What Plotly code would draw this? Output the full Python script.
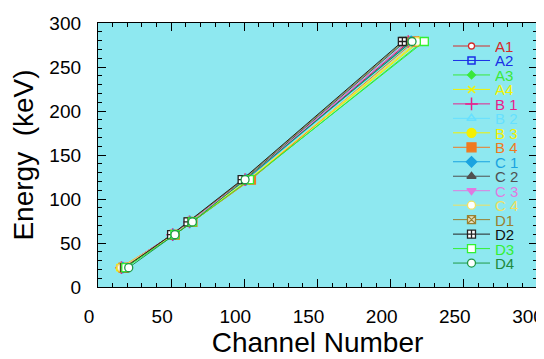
import plotly.graph_objects as go

# ---------------- data ----------------
energy_kev = [22, 59.5, 74, 122, 279]

series_names = ["A1", "A2", "A3", "A4", "B 1", "B 2", "B 3", "B 4",
                "C 1", "C 2", "C 3", "C 4", "D1", "D2", "D3", "D4"]

ch_A1 = [17, 51.5, 63, 101, 213]
ch_A2 = [17, 51.5, 63, 101, 214]
ch_A3 = [16, 52.5, 64.5, 104, 222]
ch_A4 = [15, 52, 64, 103, 220]
ch_B1 = [16, 51, 62.5, 100.5, 212]
ch_B2 = [17, 51.5, 63, 101.5, 215]
ch_B3 = [15.5, 52, 64, 103, 219]
ch_B4 = [17.5, 52.5, 64.5, 104.5, 216]
ch_C1 = [17, 51.5, 63, 101.5, 214]
ch_C2 = [16.5, 51, 62, 100, 210]
ch_C3 = [16, 51, 62.5, 100.5, 212]
ch_C4 = [16, 52, 63.5, 102.5, 218]
ch_D1 = [18, 50.5, 62, 99, 209]
ch_D2 = [18.5, 50.3, 61.5, 98.5, 208]
ch_D3 = [19, 52.5, 64.5, 103.5, 223]
ch_D4 = [21, 52.6, 64.5, 100.5, 214.6]

channels = [ch_A1, ch_A2, ch_A3, ch_A4, ch_B1, ch_B2, ch_B3, ch_B4,
            ch_C1, ch_C2, ch_C3, ch_C4, ch_D1, ch_D2, ch_D3, ch_D4]

x_ticks = [0, 50, 100, 150, 200, 250, 300]
y_ticks = [0, 50, 100, 150, 200, 250, 300]

# ---------------- styles ----------------
line_colors = ["#d42a2a", "#1a2ee6", "#3ae83a", "#f2f200", "#e8208c", "#66e0ff",
               "#f5f000", "#f07a20", "#1aa3e0", "#505050", "#e07ae0", "#f0e060",
               "#9a8030", "#222222", "#33f033", "#1f9a45"]
text_colors = ["#d42a2a", "#1a2ee6", "#3ae83a", "#f2f200", "#e8208c", "#66e0ff",
               "#f5f000", "#f07a20", "#1aa3e0", "#505050", "#e07ae0", "#f0e060",
               "#9a8030", "#111111", "#33f033", "#1f8a3d"]
symbols = ["circle", "square-open", "diamond", "x-thin-open", "cross-thin-open",
           "triangle-up-open", "circle", "square", "diamond", "triangle-up",
           "triangle-down", "circle", "square-x", "square-cross", "square", "circle"]
fills = ["white", None, None, None, None, None, None, None, None, None,
         None, "white", "#e8e0c0", "white", "white", "white"]
msizes = [6, 7, 6, 7, 9, 8, 9, 9, 8, 8, 8, 8, 8, 8, 8, 8]

FONT = "Liberation Sans, Arial, sans-serif"

fig = go.Figure()

for i, name in enumerate(series_names):
    c = line_colors[i]
    fill = fills[i] if fills[i] else c
    marker = dict(symbol=symbols[i], size=msizes[i], color=fill,
                  line=dict(color=c, width=1.3))
    if symbols[i].endswith("-open"):
        marker = dict(symbol=symbols[i], size=msizes[i], color=c,
                      line=dict(color=c, width=1.5))
    fig.add_trace(go.Scatter(x=channels[i], y=energy_kev, mode="lines+markers",
                             name=name, line=dict(color=c, width=1),
                             marker=marker, showlegend=False, cliponaxis=False))

# ---------------- custom legend (pixel-based overlay axes) ----------------
plot_w, plot_h = 439, 264
leg_x0, leg_x1 = 355, 392
leg_y0, leg_dy = 23, 14.47
for i, name in enumerate(series_names):
    c = line_colors[i]
    yy = leg_y0 + i * leg_dy
    fill = fills[i] if fills[i] else c
    marker = dict(symbol=symbols[i], size=msizes[i], color=fill,
                  line=dict(color=c, width=1.3), opacity=[0, 1, 0])
    if symbols[i].endswith("-open"):
        marker = dict(symbol=symbols[i], size=msizes[i], color=c,
                      line=dict(color=c, width=1.5), opacity=[0, 1, 0])
    fig.add_trace(go.Scatter(x=[leg_x0, (leg_x0 + leg_x1) / 2, leg_x1], y=[yy] * 3,
                             mode="lines+markers", line=dict(color=c, width=1),
                             marker=marker, xaxis="x2", yaxis="y2",
                             showlegend=False, hoverinfo="skip"))
    fig.add_annotation(x=leg_x1, y=yy, xref="x2", yref="y2", text=name,
                       showarrow=False, xanchor="left", yanchor="middle", xshift=3,
                       height=14, valign="middle",
                       font=dict(family=FONT, size=15, color=text_colors[i]))

axis_common = dict(showline=True, linecolor="black", linewidth=1.3, mirror="ticks",
                   ticks="inside", ticklen=8, tickwidth=1, tickcolor="black",
                   showgrid=False, zeroline=False, automargin=False,
                   tickfont=dict(family=FONT, size=19, color="black"),
                   minor=dict(ticks="inside", ticklen=4, tickwidth=1,
                              tickcolor="black", dtick=10, showgrid=False))

# page body has an 8px default margin, so the figure is offset by 8px
fig.update_layout(
    width=536, height=351,
    margin=dict(l=90, r=7, t=15, b=72, autoexpand=False),
    paper_bgcolor="white", plot_bgcolor="#8ee8f0",
    font=dict(family=FONT, color="black"),
    showlegend=False,
    xaxis=dict(range=[0, 300], tickvals=x_ticks, ticktext=[str(v) for v in x_ticks],
               ticklabelstandoff=12, ticklabelshift=-9,
               title=dict(text="Channel Number", font=dict(family=FONT, size=28),
                          standoff=5),
               **axis_common),
    yaxis=dict(range=[0, 300], tickvals=y_ticks, ticktext=[str(v) for v in y_ticks],
               ticklabelstandoff=12,
               title=dict(text="Energy  (keV)", font=dict(family=FONT, size=28),
                          standoff=15),
               **axis_common),
    xaxis2=dict(overlaying="x", range=[0, plot_w], visible=False, anchor="y2",
                automargin=False),
    yaxis2=dict(overlaying="y", range=[plot_h, 0], visible=False, anchor="x2",
                automargin=False),
)

fig.write_html("out.html")
